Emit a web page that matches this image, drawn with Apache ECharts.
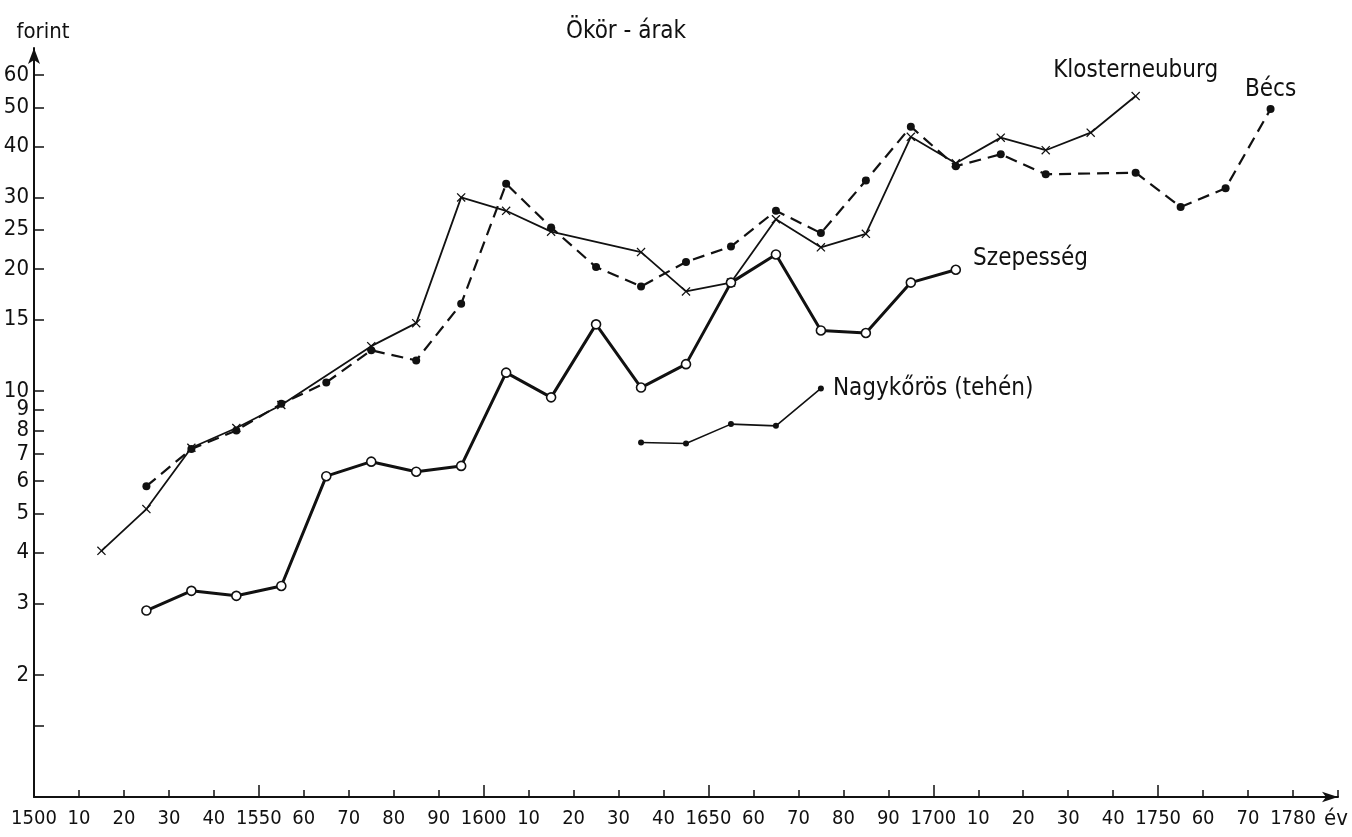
<!DOCTYPE html>
<html><head><meta charset="utf-8">
<script src="https://cdn.jsdelivr.net/npm/echarts@6/dist/echarts.min.js"></script>
<style>html,body{margin:0;padding:0;background:#fff}#c{width:1352px;height:837px}</style>
</head><body><div id="c"></div>
<script>
// ---- data ----
const klosterYears  = [1515,1525,1535,1545,1555,1575,1585,1595,1605,1615,1635,1645,1655,1665,1675,1685,1695,1705,1715,1725,1735,1745];
const klosterValues = [4.04,5.12,7.25,8.11,9.24,12.9,14.7,30.0,27.8,24.7,22.0,17.6,18.5,26.5,22.6,24.4,42.3,36.4,42.1,39.2,43.3,53.3];

const becsYears  = [1525,1535,1545,1555,1565,1575,1585,1595,1605,1615,1625,1635,1645,1655,1665,1675,1685,1695,1705,1715,1725,1745,1755,1765,1775];
const becsValues = [5.83,7.2,8.0,9.3,10.5,12.6,11.9,16.4,32.4,25.3,20.2,18.1,20.8,22.7,27.8,24.5,33.0,44.8,35.8,38.3,34.2,34.5,28.4,31.6,49.5];

const szepesYears  = [1525,1535,1545,1555,1565,1575,1585,1595,1605,1615,1625,1635,1645,1655,1665,1675,1685,1695,1705];
const szepesValues = [2.88,3.22,3.13,3.31,6.17,6.7,6.33,6.54,11.1,9.65,14.6,10.2,11.65,18.5,21.7,14.1,13.9,18.5,19.9];

const nagyYears  = [1635,1645,1655,1665,1675];
const nagyValues = [7.47,7.43,8.29,8.21,10.15];

const yTickLabels = [2,3,4,5,6,7,8,9,10,15,20,25,30,40,50,60];
const yTickMarks  = [1.5,2,3,4,5,6,7,8,9,10,15,20,25,30,40,50,60];
const xLongTicks  = [1550,1600,1650,1700,1750];
const xFullLabels = [1500,1550,1600,1650,1700,1750,1780];

const seriesNames = ['Klosterneuburg','Bécs','Szepesség','Nagykőrös (tehén)'];
const chartTitle = 'Ökör - árak';
const yName = 'forint';
const xName = 'év';

const FONT = '"DejaVu Sans Condensed","Liberation Sans",sans-serif';
const INK = '#111';

function build(years, vals, labelOpt) {
  const d = years.map((y, i) => [y, vals[i]]);
  const last = d.length - 1;
  d[last] = { value: d[last], label: Object.assign({ show: true, formatter: '{a}', color: INK, fontFamily: FONT, fontSize: 24 }, labelOpt) };
  return d;
}

const crossPath = 'path://M1,0 L5,4 L9,0 L10,1 L6,5 L10,9 L9,10 L5,6 L1,10 L0,9 L4,5 L0,1 Z';

const chart = echarts.init(document.getElementById('c'), null, { renderer: 'canvas' });
chart.setOption({
  backgroundColor: '#fff',
  animation: false,
  title: { text: chartTitle, left: 561, top: 15, textStyle: { fontFamily: FONT, fontSize: 24, fontWeight: 'normal', color: INK } },
  grid: { left: 34, right: 14, top: 48, bottom: 40, containLabel: false },
  xAxis: [{
    type: 'value', min: 1500, max: 1790, interval: 10,
    axisLine: { onZero: false, lineStyle: { color: INK, width: 2 }, symbol: ['none', 'arrow'], symbolSize: [8, 16] },
    axisTick: { inside: true, length: 7, lineStyle: { color: INK, width: 1.5 } },
    axisLabel: {
      margin: 12, color: INK, fontFamily: FONT, fontSize: 20,
      formatter: v => v > 1780 ? '' : (xFullLabels.includes(v) ? String(v) : String(v % 100))
    },
    splitLine: { show: false }
  }, {
    type: 'value', min: 1500, max: 1790, position: 'bottom',
    axisLine: { show: false },
    axisTick: { inside: true, length: 12, customValues: xLongTicks, lineStyle: { color: INK, width: 1.5 } },
    axisLabel: { show: false },
    splitLine: { show: false }
  }],
  yAxis: {
    type: 'log', logBase: 10, min: 1, max: 70,
    name: yName, nameLocation: 'end', nameGap: 5,
    nameTextStyle: { fontFamily: FONT, fontSize: 22, color: INK, align: 'center', padding: [0, 0, 0, 18] },
    axisLine: { lineStyle: { color: INK, width: 2 }, symbol: ['none', 'arrow'], symbolSize: [9, 16] },
    axisTick: { inside: true, length: 10, customValues: yTickMarks, lineStyle: { color: INK, width: 1.5 } },
    axisLabel: { margin: 5, color: INK, fontFamily: FONT, fontSize: 22, customValues: yTickLabels },
    splitLine: { show: false }, minorTick: { show: false }
  },
  graphic: [{
    type: 'text', left: 1324, top: 808,
    style: { text: xName, font: '22px ' + FONT, fill: INK }
  }],
  series: [
    {
      name: seriesNames[0], type: 'line', z: 3,
      data: build(klosterYears, klosterValues, { position: 'top', distance: 9 }),
      lineStyle: { color: INK, width: 1.8, type: 'solid' },
      symbol: crossPath, symbolSize: 9, itemStyle: { color: INK }
    },
    {
      name: seriesNames[1], type: 'line', z: 4,
      data: build(becsYears, becsValues, { position: 'top', distance: 3 }),
      lineStyle: { color: INK, width: 2.2, type: [12, 7] },
      symbol: 'circle', symbolSize: 8, itemStyle: { color: INK }
    },
    {
      name: seriesNames[2], type: 'line', z: 5,
      data: build(szepesYears, szepesValues, { position: 'right', distance: 12, offset: [0, -11] }),
      lineStyle: { color: INK, width: 3 },
      symbol: 'circle', symbolSize: 9, itemStyle: { color: '#fff', borderColor: INK, borderWidth: 1.6 }
    },
    {
      name: seriesNames[3], type: 'line', z: 3,
      data: build(nagyYears, nagyValues, { position: 'right', distance: 9 }),
      lineStyle: { color: INK, width: 1.6 },
      symbol: 'circle', symbolSize: 6, itemStyle: { color: INK }
    }
  ]
});
</script>
</body></html>
